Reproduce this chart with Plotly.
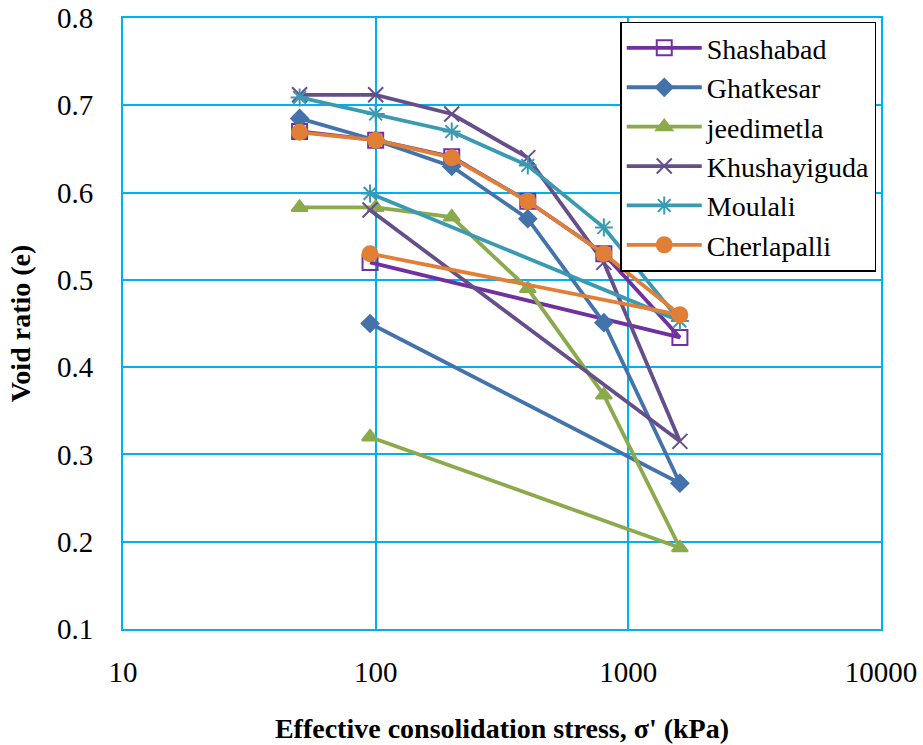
import plotly.graph_objects as go

# Effective stress steps (kPa): loading 50 -> 1600, then unloading back to ~95
stress = [50, 100, 200, 400, 800, 1600, 95]

series_names = ["Shashabad", "Ghatkesar", "jeedimetla", "Khushayiguda", "Moulali", "Cherlapalli"]
shashabad = [0.670, 0.660, 0.641, 0.590, 0.530, 0.434, 0.520]
ghatkesar = [0.685, 0.660, 0.630, 0.570, 0.451, 0.267, 0.450]
jeedimetla = [0.583, 0.583, 0.572, 0.490, 0.368, 0.193, 0.320]
khushayiguda = [0.712, 0.712, 0.690, 0.640, 0.520, 0.315, 0.580]
moulali = [0.709, 0.690, 0.670, 0.631, 0.560, 0.453, 0.599]
cherlapalli = [0.669, 0.660, 0.640, 0.590, 0.530, 0.460, 0.530]

x_tick_vals = [10, 100, 1000, 10000]
x_tick_text = ["10", "100", "1000", "10000"]
y_tick_vals = [0.1, 0.2, 0.3, 0.4, 0.5, 0.6, 0.7, 0.8]
y_tick_text = ["0.1", "0.2", "0.3", "0.4", "0.5", "0.6", "0.7", "0.8"]

values = [shashabad, ghatkesar, jeedimetla, khushayiguda, moulali, cherlapalli]
colors = ["#7030A0", "#4472AA", "#8BAA4B", "#664E8A", "#3A9AB2", "#E07F35"]
symbols = ["square-open", "diamond", "triangle-up", "x-thin-open", "asterisk-open", "circle"]
sizes = [15, 13, 14, 15, 15, 15]

fig = go.Figure()
for i, (name, ys) in enumerate(zip(series_names, values)):
    fig.add_trace(go.Scatter(
        x=stress, y=ys, name=name, mode="lines+markers",
        legendgroup=name,
        line=dict(color=colors[i], width=3.8),
        marker=dict(symbol=symbols[i], size=sizes[i], color=colors[i],
                    line=dict(color=colors[i], width=2)),
    ))

grid_color = "#00B0F0"
serif = "Liberation Serif"

fig.update_layout(
    template="none",
    width=923, height=745,
    margin=dict(l=123, r=42, t=18, b=116, autoexpand=False),
    paper_bgcolor="white", plot_bgcolor="white",
    font=dict(family=serif, color="black"),
    showlegend=True,
    legend=dict(
        x=0.656, y=0.994, xanchor="left", yanchor="top",
        bgcolor="white", bordercolor="black", borderwidth=1.5,
        font=dict(family=serif, size=28, color="black"),
        tracegroupgap=0, itemwidth=75,
    ),
    xaxis=dict(
        type="log", range=[1, 4], automargin=False,
        tickvals=x_tick_vals, ticktext=x_tick_text,
        tickfont=dict(family=serif, size=29, color="black"),
        showgrid=True, gridcolor=grid_color, gridwidth=2,
        showline=True, linecolor=grid_color, linewidth=2, mirror=True,
        ticks="", ticklabelstandoff=16,
        zeroline=False,
        title=dict(text="<b>Effective consolidation stress, σ' (kPa)</b>",
                   font=dict(family=serif, size=28, color="black"), standoff=32),
    ),
    yaxis=dict(
        range=[0.1, 0.8], automargin=False,
        tickvals=y_tick_vals, ticktext=y_tick_text,
        tickfont=dict(family=serif, size=29, color="black"),
        showgrid=True, gridcolor=grid_color, gridwidth=2,
        showline=True, linecolor=grid_color, linewidth=2, mirror=True,
        ticks="", ticklabelstandoff=22,
        zeroline=False,
        title=dict(text="<b>Void ratio (e)</b>",
                   font=dict(family=serif, size=28, color="black"), standoff=18),
    ),
)

fig.write_html("out.html")
